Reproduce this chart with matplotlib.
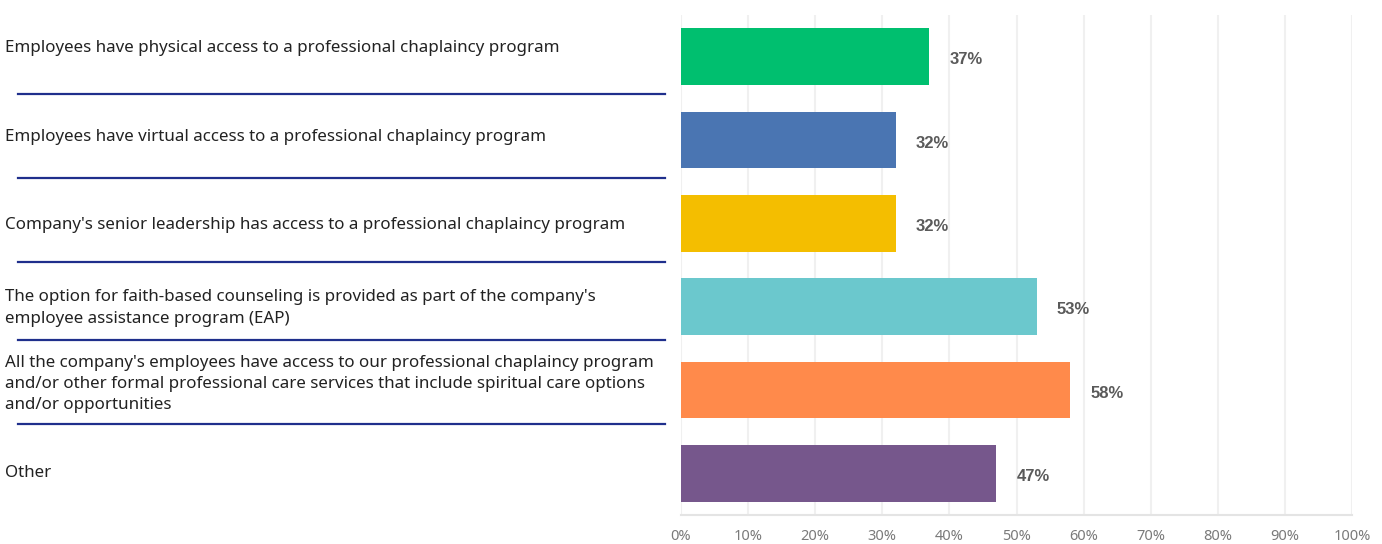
import matplotlib.pyplot as plt
from matplotlib.lines import Line2D

# Data
categories = [
    "Employees have physical access to a professional chaplaincy program",
    "Employees have virtual access to a professional chaplaincy program",
    "Company's senior leadership has access to a professional chaplaincy program",
    "The option for faith-based counseling is provided as part of the company's\nemployee assistance program (EAP)",
    "All the company's employees have access to our professional chaplaincy program\n"
    "and/or other formal professional care services that include spiritual care options\n"
    "and/or opportunities",
    "Other",
]
values = [37, 32, 32, 53, 58, 47]
colors = ["#00BF6F", "#4A75B2", "#F4BE00", "#6BC8CD", "#FF8A4B", "#76578C"]
tick_vals = list(range(0, 101, 10))
tick_labels = [f"{v}%" for v in tick_vals]

W, H = 1382, 544
fig = plt.figure(figsize=(W / 100, H / 100), dpi=100)
plt.rcParams['font.family'] = ['Noto Sans', 'DejaVu Sans']

ax = fig.add_axes([681 / W, 1 - 515 / H, (1352 - 681) / W, (515 - 15) / H])
ypos = list(range(len(values)))
ax.barh(ypos, values, height=0.68, color=colors, zorder=3)
for y, v in zip(ypos, values):
    ax.text(v + 3.0, y + 0.04, f"{v}%", va="center", ha="left", fontsize=12,
            fontweight="bold", color="#5a5a5a", family="Liberation Sans")

ax.set_xlim(0, 100)
ax.set_ylim(len(values) - 0.5, -0.5)
ax.set_xticks(tick_vals)
ax.set_xticklabels(tick_labels, fontsize=10.5, color="#7a7a7a")
ax.set_yticks([])
ax.tick_params(axis="x", length=0, pad=10)
ax.grid(axis="x", color="#f0f0f0", linewidth=1.5, zorder=0)
for s in ["top", "right", "left"]:
    ax.spines[s].set_visible(False)
ax.spines["bottom"].set_color("#e4e4e4")
ax.spines["bottom"].set_linewidth(1.5)

# left-hand category labels
label_y = [48, 137, 225, 308, 384, 473]
for txt, yy in zip(categories, label_y):
    fig.text(5 / W, 1 - yy / H, txt, ha="left", va="center", fontsize=12.2,
             color="#222222", linespacing=1.42)

# separator lines
sep_y = [94, 178, 262, 340, 424]
for yy in sep_y:
    fig.add_artist(Line2D([18 / W, 665 / W], [1 - yy / H, 1 - yy / H],
                          color="#1F2F8C", linewidth=1.6))

fig.savefig("out.png", dpi=100)
